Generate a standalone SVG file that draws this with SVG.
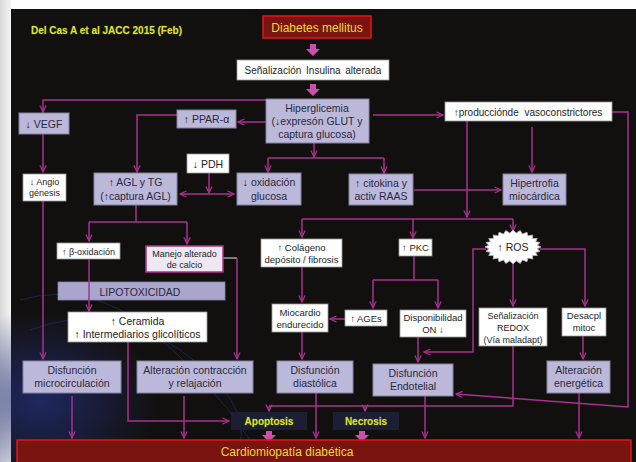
<svg xmlns="http://www.w3.org/2000/svg" width="636" height="462" viewBox="0 0 636 462">
<defs>
<style>
.lav{fill:#bcb8da;stroke:#85819f;stroke-width:1}
.wht{fill:#ffffff;stroke:#9a9a9a;stroke-width:0.8}
.t{font-family:"Liberation Sans",Arial,sans-serif;text-anchor:middle;fill:#2a2840;font-size:10.5px}
.tw{font-family:"Liberation Sans",Arial,sans-serif;text-anchor:middle;fill:#1e1e1e;font-size:9.5px}
.ts{font-size:9px}
.y{font-family:"Liberation Sans",Arial,sans-serif;font-weight:bold;fill:#e2e030;stroke:#4a7a10;stroke-width:0.35;paint-order:stroke}
.c{fill:none;stroke:#a8308f;stroke-width:1.5}
.a{marker-end:url(#ah)}
.big{fill:#cc4fb0}
.red{fill:#7a1410;stroke:#e01818;stroke-width:1.5}
.dk{fill:#1c1e34}
</style>
<marker id="ah" viewBox="0 0 10 10" refX="9" refY="5" markerWidth="8" markerHeight="8" orient="auto-start-reverse" markerUnits="userSpaceOnUse">
<path d="M1,1.2 L9,5 L1,8.8" fill="none" stroke="#a8308f" stroke-width="1.6"/>
</marker>
<linearGradient id="edge" x1="0" y1="0" x2="1" y2="0">
<stop offset="0" stop-color="#d9d9d9"/><stop offset="1" stop-color="#f3f3f3"/>
</linearGradient>
<radialGradient id="glow" cx="0.5" cy="0.5" r="0.5">
<stop offset="0" stop-color="#22307a" stop-opacity="0.75"/><stop offset="1" stop-color="#22307a" stop-opacity="0"/>
</radialGradient>
</defs>

<rect x="0" y="0" width="636" height="462" fill="#ffffff"/>
<rect x="0" y="0" width="11" height="462" fill="url(#edge)"/>
<rect x="11" y="9" width="625" height="453" fill="#12100e"/>
<ellipse cx="40" cy="400" rx="120" ry="90" fill="url(#glow)"/>
<g fill="none" stroke="#2c3a8c" stroke-opacity="0.45" stroke-width="1">
<path d="M20,300 Q90,280 150,330 T250,440"/>
<path d="M30,330 Q110,300 180,350 T240,445"/>
</g>

<text class="y" x="31" y="34" font-size="10">Del Cas A et al JACC 2015  (Feb)</text>

<g id="connectors">
<polygon class="big" points="310,44 316,44 316,49 320,49 313,56 306,49 310,49"/>
<polygon class="big" points="310,84 316,84 316,89 320,89 313,96 306,89 310,89"/>
<polygon class="big" points="266,431 272,431 272,435 276,435 269,442 262,435 266,435"/>
<polygon class="big" points="359,431 365,431 365,435 369,435 362,442 355,435 359,435"/>
<path class="c a" d="M266,100 H43 V112"/>
<path class="c a" d="M266,122 H238"/>
<path class="c a" d="M177,115 H137 V172"/>
<path class="c a" d="M373,115 H443"/>
<path class="c a" d="M314,143 V157"/>
<path class="c" d="M268,158 H384"/>
<path class="c a" d="M268,158 V172"/>
<path class="c a" d="M384,158 V173"/>
<path class="c a" d="M209,173 V193"/>
<path class="c a" d="M180,194 H234" marker-start="url(#ah)"/>
<path class="c a" d="M414,190 H501"/>
<path class="c a" d="M532,127 V172"/>
<path class="c a" d="M467,121 V217"/>
<path class="c" d="M302,219 H513"/>
<path class="c a" d="M302,219 V237"/>
<path class="c a" d="M413,219 V238"/>
<path class="c a" d="M513,219 V231"/>
<path class="c a" d="M612,112 H628 V407 L456,394"/>
<path class="c a" d="M43,134 V172"/>
<path class="c a" d="M43,201 V359"/>
<path class="c" d="M136,205 V222 M89,222 H187"/>
<path class="c a" d="M89,222 V241"/>
<path class="c a" d="M187,222 V244"/>
<path d="M223,258 H237" fill="none" stroke="#a0a0a0" stroke-width="1.5"/>
<path class="c a" d="M237,258 V359"/>
<path class="c a" d="M128,342 V421 H229"/>
<path class="c a" d="M72,396 V438"/>
<path class="c a" d="M184,396 V438"/>
<path class="c a" d="M302,267 V302"/>
<path class="c a" d="M302,332 V359"/>
<path class="c a" d="M345,319 H330"/>
<path class="c" d="M414,256 V280 M373,280 H438"/>
<path class="c a" d="M373,280 V308"/>
<path class="c a" d="M438,280 V308"/>
<path class="c a" d="M418,337 V362"/>
<path class="c a" d="M486,249 H473 V352 H424"/>
<path class="c a" d="M513,263 V306"/>
<path class="c a" d="M540,249 H585 V306"/>
<path class="c a" d="M583,336 V359"/>
<path class="c" d="M513,346 V406 H269"/>
<path class="c a" d="M269,406 V411"/>
<path class="c a" d="M365,406 V411"/>
<path class="c a" d="M316,393 V438"/>
<path class="c a" d="M425,396 V438"/>
<path class="c a" d="M579,393 V438"/>
</g>

<g id="dm"><rect class="red" x="263" y="16" width="108" height="22"/>
<text class="y" x="317" y="31.5" text-anchor="middle" font-size="12" font-weight="normal" style="font-weight:normal;fill:#f0d830;stroke:none">Diabetes mellitus</text></g>
<g id="senal"><rect class="wht" x="237" y="60" width="152" height="20"/>
<text class="tw" x="313" y="73.5" font-size="10" style="font-size:10px;word-spacing:2px">Señalización Insulina alterada</text></g>
<g id="hiper"><rect class="lav" x="266" y="99" width="103" height="44"/>
<text class="t" x="317" y="112">Hiperglicemia</text>
<text class="t" x="317" y="125">(↓expresón  GLUT y</text>
<text class="t" x="317" y="138">captura  glucosa)</text></g>
<g id="vaso"><rect class="wht" x="445" y="102" width="167" height="19"/>
<text class="tw" x="528" y="115.5" style="font-size:10px;word-spacing:3px">↑producciónde vasoconstrictores</text></g>
<g id="vegf"><rect class="lav" x="19" y="113" width="50" height="21"/>
<text class="t" x="44" y="127.5">↓ VEGF</text></g>
<g id="angio"><rect class="wht" x="23" y="174" width="43" height="27"/>
<text class="tw ts" x="44.5" y="185">↓ Angio</text>
<text class="tw ts" x="44.5" y="196">génesis</text></g>
<g id="ppar"><rect class="lav" x="177" y="110" width="59" height="18"/>
<text class="t" x="206.5" y="123">↑ PPAR-α</text></g>
<g id="pdh"><rect class="wht" x="187" y="154" width="42" height="19"/>
<text class="tw" x="208" y="167.5" style="font-size:10.5px">↓ PDH</text></g>
<g id="agl"><rect class="lav" x="94" y="173" width="83" height="32"/>
<text class="t" x="135.5" y="186">↑ AGL y TG</text>
<text class="t" x="135.5" y="200">(↑captura AGL)</text></g>
<g id="oxid"><rect class="lav" x="237" y="173" width="64" height="32"/>
<text class="t" x="269" y="186">↓ oxidación</text>
<text class="t" x="269" y="200">glucosa</text></g>
<g id="citok"><rect class="lav" x="349" y="174" width="64" height="31"/>
<text class="t" x="381" y="187">↑ citokina  y</text>
<text class="t" x="381" y="200">activ RAAS</text></g>
<g id="hipertrofia"><rect class="lav" x="503" y="174" width="63" height="31"/>
<text class="t" x="534.5" y="187">Hipertrofia</text>
<text class="t" x="534.5" y="200">miocárdica</text></g>
<g id="betaox"><rect class="wht" x="57" y="243" width="63" height="16"/>
<text class="tw ts" x="88.5" y="254.5">↑ β-oxidación</text></g>
<g id="manejo"><rect x="146" y="246" width="77" height="26" fill="#eee8f5" stroke="#b03090" stroke-width="1.5"/>
<text class="tw ts" x="184.5" y="256.5">Manejo alterado</text>
<text class="tw ts" x="184.5" y="267.5">de calcio</text></g>
<g id="lipotox"><rect x="58" y="282" width="167" height="18" fill="#aaa5cc" stroke="#8a86a8" stroke-width="0.8"/>
<text class="t" x="140" y="295.5">LIPOTOXICIDAD</text></g>
<path class="c a" d="M89,259 V311"/>
<g id="ceramida"><rect class="wht" x="68" y="312" width="139" height="30"/>
<text class="tw" x="137.5" y="324.5" style="font-size:10.5px">↑ Ceramida</text>
<text class="tw" x="137.5" y="337.5" style="font-size:10.5px">↑ Intermediarios  glicolíticos</text></g>
<g id="colageno"><rect class="wht" x="261" y="239" width="81" height="28"/>
<text class="tw" x="301.5" y="250.5">↑ Colágeno</text>
<text class="tw" x="301.5" y="262.5">depósito / fibrosis</text></g>
<g id="pkc"><rect class="wht" x="399" y="239" width="33" height="17"/>
<text class="tw" x="415.5" y="251">↑ PKC</text></g>
<g id="ros"><polygon fill="#ffffff" stroke="#b8b8b8" stroke-width="0.8" points="541,247 537.29,248.83 540.05,251.4 535.64,252.36 537.25,255.5 532.44,255.52 532.8,259.02 527.92,258.11 527,261.72 522.38,259.93 520.25,263.42 516.2,260.88 513,264 509.8,260.88 505.75,263.42 503.62,259.93 499,261.72 498.08,258.11 493.2,259.02 493.56,255.52 488.75,255.5 490.36,252.36 485.95,251.4 488.71,248.83 485,247 488.71,245.17 485.95,242.6 490.36,241.64 488.75,238.5 493.56,238.48 493.2,234.98 498.08,235.89 499,232.28 503.62,234.07 505.75,230.58 509.8,233.12 513,230 516.2,233.12 520.25,230.58 522.38,234.07 527,232.28 527.92,235.89 532.8,234.98 532.44,238.48 537.25,238.5 535.64,241.64 540.05,242.6 537.29,245.17"/>
<text class="tw" x="513" y="251" style="font-size:10.5px">↑ ROS</text></g>
<g id="ages"><rect class="wht" x="345" y="310" width="42" height="16"/>
<text class="tw" x="366" y="321.5">↑ AGEs</text></g>
<g id="dispon"><rect class="wht" x="400" y="310" width="66" height="27"/>
<text class="tw" x="433" y="321">Disponibilidad</text>
<text class="tw" x="433" y="333">ON ↓</text></g>
<g id="miocardio"><rect class="wht" x="272" y="304" width="56" height="28"/>
<text class="tw" x="300" y="315.5">Miocardio</text>
<text class="tw" x="300" y="327.5">endurecido</text></g>
<g id="redox"><rect class="wht" x="479" y="308" width="68" height="38"/>
<text class="tw ts" x="513" y="319">Señalización</text>
<text class="tw ts" x="513" y="331">REDOX</text>
<text class="tw ts" x="513" y="343">(Vía maladapt)</text></g>
<g id="desacpl"><rect class="wht" x="562" y="308" width="44" height="28"/>
<text class="tw" x="584" y="319">Desacpl</text>
<text class="tw" x="584" y="331">mitoc</text></g>
<g id="microcirc"><rect class="lav" x="23" y="361" width="98" height="32"/>
<text class="t" x="72" y="374">Disfunción</text>
<text class="t" x="72" y="387">microcirculación</text></g>
<g id="contraccion"><rect class="lav" x="137" y="361" width="116" height="32"/>
<text class="t" x="195" y="374">Alteración  contracción</text>
<text class="t" x="195" y="387">y  relajación</text></g>
<g id="diastolica"><rect class="lav" x="277" y="361" width="76" height="32"/>
<text class="t" x="315" y="374">Disfunción</text>
<text class="t" x="315" y="387">diastólica</text></g>
<g id="endotelial"><rect class="lav" x="373" y="364" width="80" height="32"/>
<text class="t" x="413" y="377">Disfunción</text>
<text class="t" x="413" y="390">Endotelial</text></g>
<g id="energetica"><rect class="lav" x="547" y="361" width="63" height="32"/>
<text class="t" x="578.5" y="374">Alteración</text>
<text class="t" x="578.5" y="387">energética</text></g>
<g id="apoptosis"><rect class="dk" x="231" y="412" width="76" height="18"/>
<text class="y" x="269" y="425" text-anchor="middle" font-size="10">Apoptosis</text></g>
<g id="necrosis"><rect class="dk" x="333" y="412" width="66" height="18"/>
<text class="y" x="366" y="425" text-anchor="middle" font-size="10">Necrosis</text></g>
<g id="cardio"><rect class="red" x="17" y="440" width="614" height="26"/>
<text class="y" x="287" y="456" text-anchor="middle" font-size="12" style="font-weight:normal;fill:#f0d830;stroke:none">Cardiomiopatía diabética</text></g>
</svg>
